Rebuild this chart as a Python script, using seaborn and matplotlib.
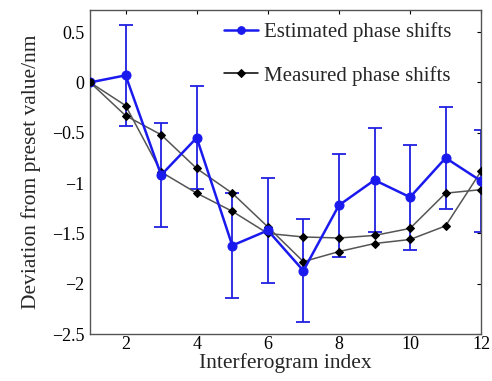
import matplotlib
matplotlib.use("Agg")
import matplotlib.pyplot as plt
import seaborn as sns
import numpy as np
import pandas as pd

index = [1, 2, 3, 4, 5, 6, 7, 8, 9, 10, 11, 12]
estimated = [0.0, 0.07, -0.92, -0.55, -1.62, -1.47, -1.87, -1.22, -0.97, -1.14, -0.75, -0.98]
est_err = [0.0, 0.50, 0.52, 0.51, 0.52, 0.52, 0.51, 0.51, 0.52, 0.52, 0.51, 0.51]
measured_a = [0.0, -0.33, -0.52, -0.855, -1.10, -1.435, -1.78, -1.68, -1.60, -1.56, -1.425, -0.88]
measured_b = [0.0, -0.23, -0.89, -1.10, -1.28, -1.50, -1.535, -1.545, -1.52, -1.45, -1.10, -1.065]

sns.set_theme(style="white")
plt.rcParams['font.family'] = ['Liberation Serif', 'DejaVu Serif']

fig = plt.figure(figsize=(4.92, 3.81), dpi=100)
ax = fig.add_axes([0.183, 0.123, 0.795, 0.851])

df = pd.DataFrame({"x": index, "est": estimated, "a": measured_a, "b": measured_b})

ax.errorbar(index[1:], estimated[1:], yerr=est_err[1:], fmt='none', ecolor='#2020e0',
            elinewidth=1.3, capsize=5, capthick=1.3, zorder=2)
sns.lineplot(data=df, x="x", y="b", ax=ax, color='#555555', lw=1.1, marker='D',
             markersize=4.5, markerfacecolor='black', markeredgecolor='black', zorder=3)
sns.lineplot(data=df, x="x", y="a", ax=ax, color='#555555', lw=1.1, marker='D',
             markersize=4.5, markerfacecolor='black', markeredgecolor='black', zorder=3,
             label="Measured phase shifts")
sns.lineplot(data=df, x="x", y="est", ax=ax, color='#1a1aee', lw=1.8, marker='o',
             markersize=6.5, markerfacecolor='#1a1aee', markeredgecolor='#1a1aee', zorder=4,
             label="Estimated phase shifts")
ax.plot([1], [0], marker='o', color='black', markersize=5, zorder=5)

ax.set_xlim(1, 12)
ax.set_ylim(-2.5, 0.72)
ax.set_xticks([2, 4, 6, 8, 10, 12])
ax.set_yticks([0.5, 0, -0.5, -1, -1.5, -2, -2.5])
ax.set_yticklabels(['0.5', '0', '\u22120.5', '\u22121', '\u22121.5', '\u22122', '\u22122.5'])
ax.tick_params(direction='in', length=3, width=0.8, labelsize=13, colors='black',
               top=True, right=True)
ax.tick_params(axis='x', pad=1.5)
ax.tick_params(axis='y', pad=4)
for s in ax.spines.values():
    s.set_color('#555555')
    s.set_linewidth(1.0)
ax.set_xlabel("Interferogram index", fontsize=15.5, labelpad=0)
ax.set_ylabel("Deviation from preset value/nm", fontsize=15.5, labelpad=8)

h, l = ax.get_legend_handles_labels()
order = [l.index("Estimated phase shifts"), l.index("Measured phase shifts")]
leg = ax.legend([h[i] for i in order], [l[i] for i in order], loc='upper right',
                frameon=False, fontsize=15, handlelength=1.6, handletextpad=0.3,
                bbox_to_anchor=(0.95, 0.995), borderaxespad=0.1, labelspacing=1.15)
leg.get_lines()[1].set_color('black')
leg.get_lines()[1].set_markersize(4)
leg.get_lines()[0].set_markersize(5.5)

fig.savefig("out.png", dpi=100)
